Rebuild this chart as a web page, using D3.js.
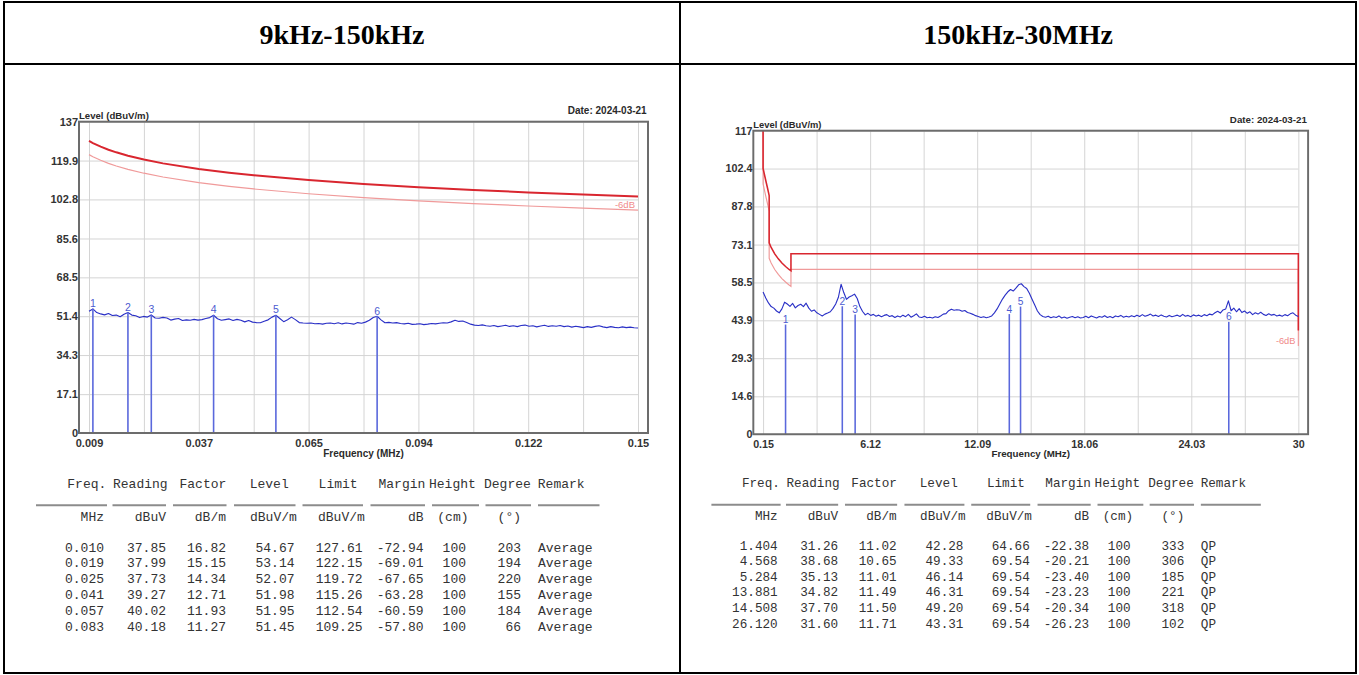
<!DOCTYPE html>
<html>
<head>
<meta charset="utf-8">
<script src="https://cdn.jsdelivr.net/npm/d3@7/dist/d3.min.js"></script>
<style>
  html, body { margin: 0; padding: 0; background: #fff; }
  svg { display: block; }
</style>
</head>
<body>
<svg id="page" width="1359" height="675"></svg>
<script>
// ---------------- Radiated emission: 9 kHz - 150 kHz ----------------
const lowTitle = "9kHz-150kHz";
const lowYTicks = ["0", "17.1", "34.3", "51.4", "68.5", "85.6", "102.8", "119.9", "137"];
const lowXGrid = [0.009, 0.0231, 0.0372, 0.0513, 0.0654, 0.0795, 0.0936, 0.1077, 0.1218, 0.1359, 0.15];
const lowXLabels = ["0.009", "0.037", "0.065", "0.094", "0.122", "0.15"];

const lowLimitFreq = [0.009, 0.010, 0.012, 0.014, 0.016, 0.019, 0.0231, 0.028, 0.0372, 0.045, 0.0513, 0.0654, 0.0795, 0.0936, 0.1077, 0.1218, 0.1359, 0.15];
const lowLimit     = [128.52, 127.60, 126.02, 124.68, 123.52, 122.03, 120.33, 118.66, 116.19, 114.54, 113.40, 111.29, 109.60, 108.18, 106.96, 105.89, 104.94, 104.08];
const lowLimit6    = [122.52, 121.60, 120.02, 118.68, 117.52, 116.03, 114.33, 112.66, 110.19, 108.54, 107.40, 105.29, 103.60, 102.18, 100.96, 99.89, 98.94, 98.08];

// sweep 0.009 .. 0.150 MHz, 1 kHz steps
const lowSweep = { start: 0.009, stop: 0.150 };
const lowTrace = [
  53.6, 54.6, 53.0, 52.4, 52.0, 52.6, 51.7, 51.9, 51.2, 52.3,
  53.0, 51.9, 51.6, 50.8, 51.3, 51.0, 51.9, 50.6, 50.5, 50.9,
  50.6, 49.7, 50.1, 50.4, 49.5, 49.8, 49.6, 50.0, 49.7, 49.9,
  50.4, 50.8, 51.8, 50.3, 49.6, 49.9, 50.2, 49.5, 50.0, 49.6,
  48.9, 49.5, 48.8, 48.6, 48.5, 49.2, 49.8, 51.0, 51.8, 50.4,
  49.0, 49.8, 51.0, 49.9, 48.6, 48.4, 48.3, 48.4, 48.1, 48.2,
  47.9, 48.3, 48.4, 48.1, 48.5, 48.0, 48.4, 48.2, 47.9, 48.6,
  48.3, 48.8, 49.6, 50.8, 51.4, 49.8, 48.5, 48.7, 48.4, 48.6,
  48.2, 48.0, 48.3, 47.8, 47.9, 48.1, 47.7, 47.9, 48.2, 48.0,
  48.3, 48.5, 48.4, 48.9, 49.6, 49.1, 49.3, 48.6, 47.9, 47.5,
  47.3, 47.6, 47.2, 47.0, 47.3, 46.8, 47.1, 47.4, 46.9, 47.2,
  46.8, 47.3, 47.5, 47.0, 47.2, 46.7, 47.1, 47.4, 46.9, 47.2,
  47.0, 47.3, 46.8, 47.1, 46.6, 47.0, 46.7, 46.4, 46.8, 46.5,
  46.9, 47.2, 46.7, 46.4, 46.8, 46.5, 46.3, 46.7, 46.4, 46.6,
  46.3, 46.2
];

const lowFreq    = [0.010, 0.019, 0.025, 0.041, 0.057, 0.083];
const lowReading = [37.85, 37.99, 37.73, 39.27, 40.02, 40.18];
const lowFactor  = [16.82, 15.15, 14.34, 12.71, 11.93, 11.27];
const lowLevel   = [54.67, 53.14, 52.07, 51.98, 51.95, 51.45];
const lowLimitAt = [127.61, 122.15, 119.72, 115.26, 112.54, 109.25];
const lowMargin  = [-72.94, -69.01, -67.65, -63.28, -60.59, -57.80];
const lowHeight  = [100, 100, 100, 100, 100, 100];
const lowDegree  = [203, 194, 220, 155, 184, 66];
const lowRemark  = ["Average", "Average", "Average", "Average", "Average", "Average"];

// ---------------- Radiated emission: 150 kHz - 30 MHz ----------------
const highTitle = "150kHz-30MHz";
const highYTicks = ["0", "14.6", "29.3", "43.9", "58.5", "73.1", "87.8", "102.4", "117"];
const highXGrid = [0.15, 3.135, 6.12, 9.105, 12.09, 15.075, 18.06, 21.045, 24.03, 27.015, 30];
const highXLabels = ["0.15", "6.12", "12.09", "18.06", "24.03", "30"];

const highLimitFreq = [0.15, 0.15, 0.30, 0.40, 0.49, 0.49, 0.60, 0.80, 1.00, 1.20, 1.404, 1.60, 1.705, 1.705, 30, 30];
const highLimit     = [117, 102.5, 97.8, 94.8, 92.0, 73.8, 72.0, 69.5, 67.6, 66.0, 64.66, 63.5, 63.0, 69.54, 69.54, 40];
const highLimit6    = [117, 96.5, 91.8, 88.8, 86.0, 67.8, 66.0, 63.5, 61.6, 60.0, 58.66, 57.5, 57.0, 63.54, 63.54, 34];

// sweep 0.15 .. 30 MHz, 150 kHz steps
const highSweep = { start: 0.15, stop: 30 };
const highTrace = [
  54.8, 52.5, 50.6, 49.2, 48.6, 47.5, 46.8, 48.3, 50.9, 50.2,
  49.3, 50.4, 48.7, 49.6, 50.1, 49.2, 50.5, 48.6, 47.4, 47.9,
  46.8, 46.2, 45.6, 46.3, 46.7, 47.2, 48.5, 50.2, 52.8, 57.8,
  54.6, 52.0, 52.9, 53.4, 54.0, 52.3, 49.2, 47.3, 46.0, 46.6,
  45.8, 46.2, 45.5, 45.9, 45.3, 45.8, 46.1, 45.4, 45.7, 45.0,
  45.6, 45.2, 45.9, 45.3, 46.2, 45.1, 45.7, 46.4, 45.2, 45.0,
  45.5, 44.9, 45.1, 44.8, 45.3, 45.0, 45.6, 46.3, 46.5, 47.6,
  48.2, 47.8, 48.0, 47.9, 47.4, 47.7, 46.9, 46.6, 46.2, 45.7,
  45.4, 45.0, 45.3, 44.9, 45.2, 45.6, 46.8, 48.3, 50.2, 52.1,
  53.6, 54.9, 55.8, 55.2, 56.3, 57.6, 58.0, 56.9, 56.2, 54.3,
  52.0, 49.8, 47.5, 46.1, 45.4, 45.1, 45.5, 44.9, 45.3, 45.0,
  45.6, 44.8, 45.2, 44.7, 45.1, 45.4, 44.9, 45.3, 44.8, 45.0,
  45.5, 44.9, 45.6, 45.2, 44.8, 45.4, 45.1, 45.7, 45.0, 45.4,
  44.9, 45.6, 45.3, 45.8, 45.1, 45.5, 45.2, 45.7, 45.3, 45.9,
  45.4, 46.1, 45.5, 45.8, 46.3, 45.6, 45.9, 45.4, 46.0, 45.5,
  45.2, 45.8, 45.3, 45.6, 45.9, 45.4, 46.2, 45.5, 45.8, 45.3,
  46.0, 45.6, 45.9, 45.4, 46.1, 45.7, 46.3, 46.0, 46.8, 47.4,
  46.7, 47.9, 48.3, 51.4, 47.6, 48.6, 47.2, 48.4, 46.9, 47.5,
  46.6, 47.2, 46.1, 46.8, 46.3, 47.0, 46.2, 45.8, 46.4, 45.9,
  46.2, 45.6, 45.9, 45.5, 46.1, 45.7, 46.4, 46.8, 45.9, 45.4
];

const highFreq    = [1.404, 4.568, 5.284, 13.881, 14.508, 26.120];
const highReading = [31.26, 38.68, 35.13, 34.82, 37.70, 31.60];
const highFactor  = [11.02, 10.65, 11.01, 11.49, 11.50, 11.71];
const highLevel   = [42.28, 49.33, 46.14, 46.31, 49.20, 43.31];
const highLimitAt = [64.66, 69.54, 69.54, 69.54, 69.54, 69.54];
const highMargin  = [-22.38, -20.21, -23.40, -23.23, -20.34, -26.23];
const highHeight  = [100, 100, 100, 100, 100, 100];
const highDegree  = [333, 306, 185, 221, 318, 102];
const highRemark  = ["QP", "QP", "QP", "QP", "QP", "QP"];

// ---------------- shared labels ----------------
const dateText = "Date: 2024-03-21";
const yAxisTitle = "Level (dBuV/m)";
const xAxisTitle = "Frequency (MHz)";
const marginLabel = "-6dB";
const tableHeaders = ["Freq.", "Reading", "Factor", "Level", "Limit", "Margin", "Height", "Degree", "Remark"];
const tableUnits = ["MHz", "dBuV", "dB/m", "dBuV/m", "dBuV/m", "dB", "(cm)", "(°)"];

// ---------------- drawing ----------------
const SANS = "'Liberation Sans', Arial, sans-serif";
const MONO = "'Liberation Mono', 'DejaVu Sans Mono', monospace";
const SERIF = "'Liberation Serif', 'Times New Roman', serif";

const svg = d3.select("#page");
svg.append("rect").attr("width", 1359).attr("height", 675).attr("fill", "#fff");

// outer report table
const frame = svg.append("g").attr("fill", "none").attr("stroke", "#000").attr("stroke-width", 2);
frame.append("rect").attr("x", 4).attr("y", 2).attr("width", 1352).attr("height", 671);
frame.append("line").attr("x1", 4).attr("x2", 1356).attr("y1", 64).attr("y2", 64);
frame.append("line").attr("x1", 680).attr("x2", 680).attr("y1", 2).attr("y2", 673);

svg.append("g").attr("font-family", SERIF).attr("font-weight", "bold").attr("font-size", 28)
  .attr("text-anchor", "middle").attr("fill", "#000")
  .selectAll("text").data([[342, lowTitle], [1018, highTitle]]).join("text")
  .attr("x", d => d[0]).attr("y", 43.5).text(d => d[1]);

// plot geometry shared by both panels (panel coordinates)
const PL = 79, PR = 648, PT = 121.7, PB = 433, DL = 89, DR = 638;

function drawPanel(root, p) {
  const x = d3.scaleLinear().domain([p.xGrid[0], p.xGrid[p.xGrid.length - 1]]).range([DL, DR]);
  const yMax = +p.yTicks[p.yTicks.length - 1];
  const y = d3.scaleLinear().domain([0, yMax]).range([PB, PT]);

  // vertical grid
  const gv = root.append("g").attr("transform", `translate(0,${PB})`)
    .call(d3.axisBottom(x).tickValues(p.xGrid).tickSize(-(PB - PT)).tickFormat(""));
  gv.select(".domain").remove();
  gv.selectAll("line").attr("stroke", "#d4d4d4").attr("stroke-width", 1);

  // horizontal grid
  const gh = root.append("g").attr("transform", `translate(${PL},0)`)
    .call(d3.axisRight(y).tickValues(p.yTicks.map(Number)).tickSize(DR - PL).tickFormat(""));
  gh.select(".domain").remove();
  gh.selectAll("line").attr("stroke", "#d4d4d4").attr("stroke-width", 1);

  // -6 dB line and limit line
  const lim = d3.line().x(d => x(d[0])).y(d => y(d[1]));
  root.append("path").datum(p.limitFreq.map((f, i) => [f, p.limit6[i]]))
    .attr("d", lim).attr("fill", "none").attr("stroke", "#f09a9a").attr("stroke-width", 1.2);
  root.append("path").datum(p.limitFreq.map((f, i) => [f, p.limit[i]]))
    .attr("d", lim).attr("fill", "none").attr("stroke", "#d9262f").attr("stroke-width", p.limitWidth);

  const last6 = p.limit6[p.limit6.length - 1];
  root.append("text").attr("x", DR - 3).attr("y", y(last6) - 2)
    .attr("text-anchor", "end").attr("font-family", SANS).attr("font-size", 9.5)
    .attr("fill", "#f08a8a").text(marginLabel);

  // measured sweep
  const n = p.trace.length;
  const step = (p.sweep.stop - p.sweep.start) / (n - 1);
  const tr = d3.line().x((d, i) => x(p.sweep.start + i * step)).y(d => y(d));
  root.append("path").datum(p.trace).attr("d", tr)
    .attr("fill", "none").attr("stroke", "#2a30c6").attr("stroke-width", 1.15)
    .attr("stroke-linejoin", "round");

  // final measurement markers
  const mk = root.append("g");
  mk.selectAll("line").data(p.mFreq).join("line")
    .attr("x1", d => x(d)).attr("x2", d => x(d))
    .attr("y1", (d, i) => y(p.mLevel[i])).attr("y2", y(0))
    .attr("stroke", "#5a68dc").attr("stroke-width", 1.6);
  mk.selectAll("text").data(p.mFreq).join("text")
    .attr("x", d => x(d)).attr("y", (d, i) => y(p.mLevel[i]) - 1.5)
    .attr("text-anchor", "middle").attr("font-family", SANS).attr("font-size", 10.5)
    .attr("fill", "#4c5bd0").text((d, i) => i + 1);

  // plot frame
  root.append("rect").attr("x", PL).attr("y", PT).attr("width", PR - PL).attr("height", PB - PT)
    .attr("fill", "none").attr("stroke", "#6c6c6c").attr("stroke-width", 2);

  // tick labels
  const ay = root.append("g").attr("transform", `translate(${PL - 1},0)`)
    .call(d3.axisLeft(y).tickValues(p.yTicks.map(Number)).tickSize(0).tickPadding(0)
      .tickFormat((d, i) => p.yTicks[i]));
  ay.select(".domain").remove();
  ay.selectAll("text").attr("font-family", SANS).attr("font-weight", "bold")
    .attr("font-size", 11).attr("fill", "#333");

  const labelVals = p.xGrid.filter((d, i) => i % 2 === 0);
  const ax = root.append("g").attr("transform", `translate(0,${PB})`)
    .call(d3.axisBottom(x).tickValues(labelVals).tickSize(0).tickPadding(6)
      .tickFormat((d, i) => p.xLabels[i]));
  ax.select(".domain").remove();
  ax.selectAll("text").attr("font-family", SANS).attr("font-weight", "bold")
    .attr("font-size", 11).attr("fill", "#333");

  // titles
  const t = root.append("g").attr("font-family", SANS).attr("font-weight", "bold").attr("fill", "#2a2a2a");
  t.append("text").attr("x", PL).attr("y", 119.3).attr("font-size", 9.6).text(yAxisTitle);
  t.append("text").attr("x", 646.7).attr("y", 113.6).attr("font-size", 10)
    .attr("text-anchor", "end").text(dateText);
  t.append("text").attr("x", (PL + PR) / 2).attr("y", 456.6).attr("font-size", 10)
    .attr("text-anchor", "middle").text(xAxisTitle);

  // result table
  const tb = root.append("g").attr("font-family", MONO).attr("font-size", 13).attr("fill", "#333");
  const headX = [67.3, 113, 179.5, 249.7, 318.6, 378.5, 429, 484, 537.8];
  tb.selectAll("text.h").data(tableHeaders).join("text").attr("class", "h")
    .attr("x", (d, i) => headX[i]).attr("y", 487.5).text(d => d);

  const sepSeg = [[36, 107], [112.5, 166], [173, 226.5], [234, 295.5], [302.5, 363], [370.5, 425], [432, 479], [485.5, 531], [538, 599.5]];
  tb.selectAll("line").data(sepSeg).join("line")
    .attr("x1", d => d[0]).attr("x2", d => d[1]).attr("y1", 505.3).attr("y2", 505.3)
    .attr("stroke", "#8c8c8c").attr("stroke-width", 2);

  const unitPos = [[104, "end"], [166, "end"], [226, "end"], [250, "start"], [318, "start"], [423.5, "end"], [468.5, "end"], [521, "end"]];
  tb.selectAll("text.u").data(tableUnits).join("text").attr("class", "u")
    .attr("x", (d, i) => unitPos[i][0]).attr("text-anchor", (d, i) => unitPos[i][1])
    .attr("y", 521).text(d => d);

  const cols = [
    [p.mFreq.map(v => v.toFixed(3)), 104],
    [p.reading.map(v => v.toFixed(2)), 166],
    [p.factor.map(v => v.toFixed(2)), 226],
    [p.mLevel.map(v => v.toFixed(2)), 294.5],
    [p.limitAt.map(v => v.toFixed(2)), 362.5],
    [p.margin.map(v => v.toFixed(2)), 423.5],
    [p.height.map(String), 466],
    [p.degree.map(String), 521]
  ];
  const rowY = i => 551.5 + i * 15.95;
  cols.forEach(([vals, xe]) => {
    tb.append("g").attr("text-anchor", "end").selectAll("text").data(vals).join("text")
      .attr("x", xe).attr("y", (d, i) => rowY(i)).text(d => d);
  });
  tb.append("g").selectAll("text").data(p.remark).join("text")
    .attr("x", 538).attr("y", (d, i) => rowY(i)).text(d => d);
}

drawPanel(svg.append("g"), {
  yTicks: lowYTicks, xGrid: lowXGrid, xLabels: lowXLabels,
  limitFreq: lowLimitFreq, limit: lowLimit, limit6: lowLimit6, limitWidth: 2,
  sweep: lowSweep, trace: lowTrace,
  mFreq: lowFreq, mLevel: lowLevel, reading: lowReading, factor: lowFactor,
  limitAt: lowLimitAt, margin: lowMargin, height: lowHeight, degree: lowDegree, remark: lowRemark
});

drawPanel(svg.append("g").attr("transform", "translate(676.3,12.04) scale(0.975)"), {
  yTicks: highYTicks, xGrid: highXGrid, xLabels: highXLabels,
  limitFreq: highLimitFreq, limit: highLimit, limit6: highLimit6, limitWidth: 1.6,
  sweep: highSweep, trace: highTrace,
  mFreq: highFreq, mLevel: highLevel, reading: highReading, factor: highFactor,
  limitAt: highLimitAt, margin: highMargin, height: highHeight, degree: highDegree, remark: highRemark
});
</script>
</body>
</html>
